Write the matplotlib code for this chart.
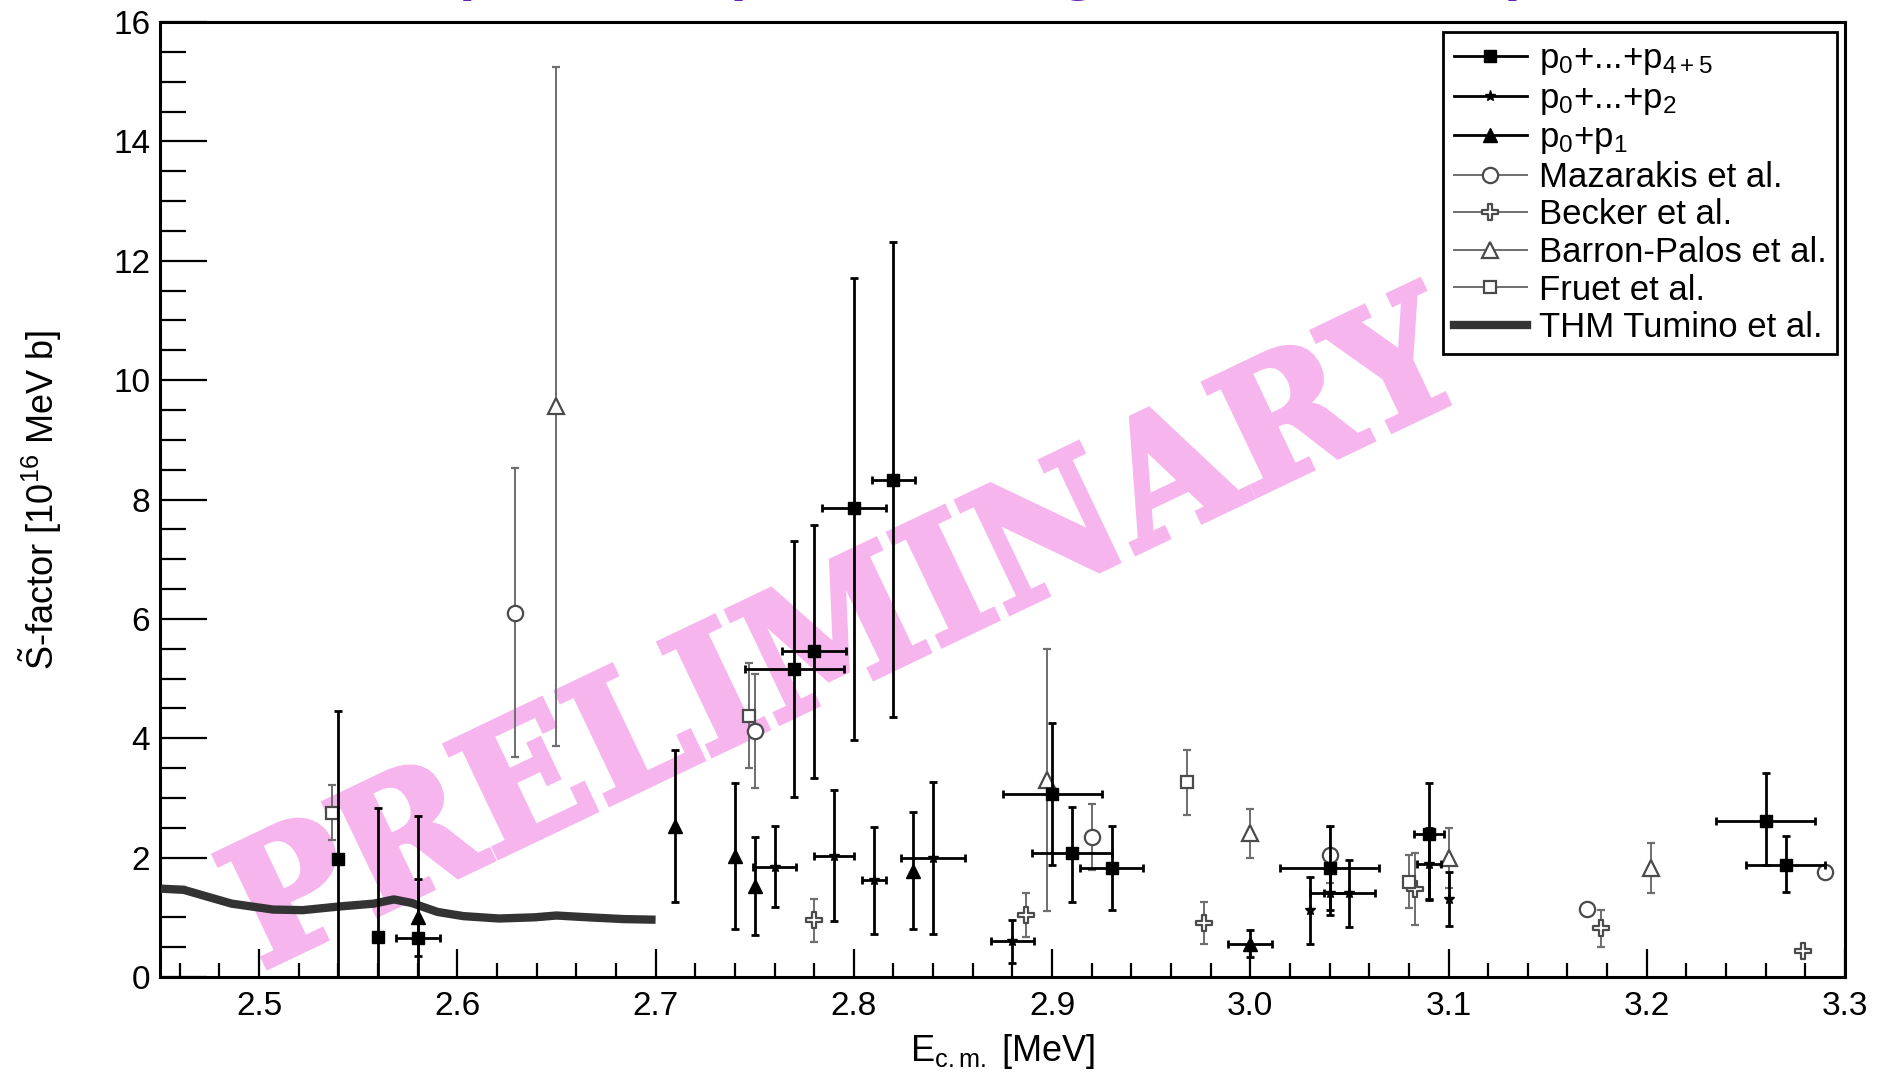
import matplotlib
matplotlib.use('Agg')
import matplotlib.pyplot as plt
import matplotlib.transforms as mtransforms
import numpy as np
from matplotlib.font_manager import FontProperties
from matplotlib.lines import Line2D
from matplotlib.patches import PathPatch
from matplotlib.path import Path
from matplotlib.textpath import TextPath
from matplotlib.ticker import MultipleLocator, FormatStrFormatter

plt.rcParams['font.family'] = ['Liberation Sans', 'DejaVu Sans']
plt.rcParams['mathtext.fontset'] = 'custom'
plt.rcParams['mathtext.rm'] = 'Liberation Sans'
plt.rcParams['mathtext.it'] = 'Liberation Sans:italic'
plt.rcParams['mathtext.default'] = 'regular'

# p0+...+p4+5 (this work)
sq_x = [2.54, 2.56, 2.58, 2.77, 2.78, 2.80, 2.82, 2.90, 2.91, 2.93, 3.04, 3.09, 3.26, 3.27]
sq_y = [1.97, 0.67, 0.65, 5.16, 5.46, 7.85, 8.33, 3.07, 2.07, 1.83, 1.83, 2.40, 2.62, 1.88]
sq_xe = [0, 0, 0.011, 0.025, 0.016, 0.016, 0.011, 0.025, 0.020, 0.016, 0.025, 0.0075, 0.025, 0.020]
sq_ylo = [1.97, 0.67, 0.65, 2.14, 2.12, 3.88, 3.98, 1.20, 0.81, 0.71, 0.70, 1.10, 0.75, 0.46]
sq_yhi = [2.48, 2.16, 2.04, 2.15, 2.12, 3.86, 3.99, 1.19, 0.78, 0.70, 0.70, 0.85, 0.80, 0.48]

# p0+...+p2
st_x = [2.76, 2.79, 2.81, 2.84, 2.88, 3.03, 3.04, 3.05, 3.09, 3.10]
st_y = [1.85, 2.03, 1.62, 1.99, 0.60, 1.12, 1.40, 1.40, 1.89, 1.31]
st_xe = [0.011, 0.010, 0.006, 0.016, 0.011, 0.0, 0.010, 0.013, 0.006, 0.0]
st_ye = [0.68, 1.10, 0.90, 1.27, 0.36, 0.56, 0.36, 0.56, 0.60, 0.45]

# p0+p1
tr_x = [2.58, 2.71, 2.74, 2.75, 2.83, 3.00]
tr_y = [1.00, 2.53, 2.03, 1.53, 1.78, 0.56]
tr_xe = [0, 0, 0, 0, 0, 0.011]
tr_ye = [0.65, 1.27, 1.22, 0.82, 0.98, 0.22]

# literature
maz_x = [2.629, 2.75, 2.92, 3.04, 3.17, 3.29]
maz_y = [6.10, 4.12, 2.35, 2.04, 1.14, 1.76]
maz_ye = [2.42, 0.95, 0.55, 0.47, 0, 0]

bec_x = [2.78, 2.887, 2.9765, 3.083, 3.177, 3.279]
bec_y = [0.95, 1.04, 0.90, 1.47, 0.82, 0.44]
bec_ye = [0.36, 0.37, 0.35, 0.60, 0.31, 0]

bar_x = [2.65, 2.8975, 3.00, 3.10, 3.202]
bar_y = [9.56, 3.30, 2.41, 1.99, 1.82]
bar_ye = [5.69, 2.20, 0.41, 0.50, 0.42]

fru_x = [2.537, 2.747, 2.968, 3.080]
fru_y = [2.75, 4.38, 3.26, 1.60]
fru_ye = [0.46, 0.88, 0.55, 0.45]

# THM Tumino et al.
thm_x = [2.4505, 2.462, 2.486, 2.507, 2.522, 2.540, 2.558, 2.568, 2.577, 2.590,
         2.603, 2.621, 2.639, 2.650, 2.666, 2.684, 2.700]
thm_y = [1.48, 1.46, 1.23, 1.13, 1.12, 1.18, 1.23, 1.30, 1.24, 1.09,
         1.02, 0.98, 1.00, 1.03, 1.00, 0.97, 0.96]

labels = ['p$_0$+...+p$_{4+5}$', 'p$_0$+...+p$_2$', 'p$_0$+p$_1$', 'Mazarakis et al.',
          'Becker et al.', 'Barron-Palos et al.', 'Fruet et al.', 'THM Tumino et al.']

# open cross marker
cross = Path([(-0.3, -1), (0.3, -1), (0.3, -0.3), (1, -0.3), (1, 0.3), (0.3, 0.3),
              (0.3, 1), (-0.3, 1), (-0.3, 0.3), (-1, 0.3), (-1, -0.3), (-0.3, -0.3),
              (-0.3, -1)], closed=True)

fig = plt.figure(figsize=(18.85, 10.77), dpi=100)
ax = fig.add_axes([160 / 1885, 100 / 1077, 1685 / 1885, 955 / 1077])

# PRELIMINARY stamp
tp = TextPath((0, 0), 'PRELIMINARY', size=1,
              prop=FontProperties(family='DejaVu Serif', weight='bold'))
bb = tp.get_extents()
stamp_tr = (mtransforms.Affine2D().translate(-bb.x0, 0)
            .scale(1335 / bb.width, 124 / 0.729)
            .rotate_deg(25.5).translate(268, 110))
ax.add_patch(PathPatch(tp, transform=stamp_tr, facecolor='#f7b5ee', edgecolor='#f7b5ee',
                       lw=4, joinstyle='miter', zorder=1, clip_on=False))

blk = dict(ls='none', color='black', elinewidth=2.0, capsize=3, capthick=2.0, zorder=4)
gry = dict(ls='none', ecolor='#6e6e6e', elinewidth=1.4, capsize=3, capthick=1.4,
           mfc='white', mec='#4a4a4a', mew=1.6, zorder=3)

ax.plot(thm_x, thm_y, color='#333333', lw=6, solid_capstyle='butt', zorder=3)
ax.errorbar(maz_x, maz_y, yerr=maz_ye, marker='o', ms=11, **gry)
ax.errorbar(bec_x, bec_y, yerr=bec_ye, marker=cross, ms=11, **gry)
ax.errorbar(bar_x, bar_y, yerr=bar_ye, marker='^', ms=11, **gry)
ax.errorbar(fru_x, fru_y, yerr=fru_ye, marker='s', ms=9, **gry)
ax.errorbar(sq_x, sq_y, xerr=sq_xe, yerr=[sq_ylo, sq_yhi], marker='s', ms=9, **blk)
ax.errorbar(st_x, st_y, xerr=st_xe, yerr=st_ye, marker='*', ms=8, **blk)
ax.errorbar(tr_x, tr_y, xerr=tr_xe, yerr=tr_ye, marker='^', ms=10, **blk)

ax.set_xlim(2.45, 3.3)
ax.set_ylim(0, 16)
ax.xaxis.set_major_locator(MultipleLocator(0.1))
ax.xaxis.set_minor_locator(MultipleLocator(0.02))
ax.xaxis.set_major_formatter(FormatStrFormatter('%.1f'))
ax.yaxis.set_major_locator(MultipleLocator(2))
ax.yaxis.set_minor_locator(MultipleLocator(0.5))
ax.tick_params(axis='y', which='major', direction='in', length=34, width=1.6,
               labelsize=24, pad=7)
ax.tick_params(axis='y', which='minor', direction='in', length=18.5, width=1.6)
ax.tick_params(axis='x', which='major', direction='in', length=20, width=1.6,
               labelsize=24, pad=10)
ax.tick_params(axis='x', which='minor', direction='in', length=10, width=1.6)
for s in ax.spines.values():
    s.set_linewidth(2.2)

ax.set_xlabel('E$_{c.m.}$ [MeV]', fontsize=26)
ax.set_ylabel(r'$\tilde{S}$-factor [10$^{16}$ MeV b]', fontsize=26)
ax.xaxis.set_label_coords(0.5, -0.058)
ax.yaxis.set_label_coords(-0.057, 0.5)

handles = [
    Line2D([], [], color='black', lw=2, marker='s', ms=9),
    Line2D([], [], color='black', lw=2, marker='*', ms=8),
    Line2D([], [], color='black', lw=2, marker='^', ms=10),
    Line2D([], [], color='#6e6e6e', lw=1.4, marker='o', ms=11, mfc='white', mec='#4a4a4a', mew=1.6),
    Line2D([], [], color='#6e6e6e', lw=1.4, marker=cross, ms=11, mfc='white', mec='#4a4a4a', mew=1.6),
    Line2D([], [], color='#6e6e6e', lw=1.4, marker='^', ms=11, mfc='white', mec='#4a4a4a', mew=1.6),
    Line2D([], [], color='#6e6e6e', lw=1.4, marker='s', ms=9, mfc='white', mec='#4a4a4a', mew=1.6),
    Line2D([], [], color='#333333', lw=6),
]
leg = ax.legend(handles, labels, loc='upper right', bbox_to_anchor=(0.9953, 0.9895),
                fontsize=25, handlelength=2.1, handletextpad=0.35, labelspacing=0.13,
                borderpad=0.3, borderaxespad=0, fancybox=False, framealpha=1,
                edgecolor='black')
leg.get_frame().set_linewidth(2)
leg.set_zorder(6)

fig.text(457 / 1885, 1.0 + 11 / 1077, '(this work) vs. existing data of others)',
         fontsize=43, style='italic', weight='bold', color='#6a1fb5',
         va='baseline', ha='left')

fig.savefig('out.png', dpi=100)
